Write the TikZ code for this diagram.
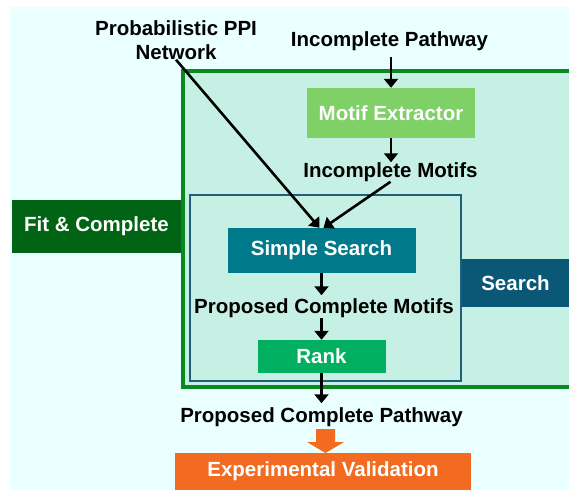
\documentclass[tikz,border=0pt]{standalone}
\usepackage{fontspec}
\setmainfont{Liberation Sans}
\usetikzlibrary{arrows.meta}
\definecolor{bgc}{HTML}{EAFFFF}
\definecolor{boxfill}{HTML}{C6F0E4}
\definecolor{gborder}{HTML}{0A8A1E}
\definecolor{mefill}{HTML}{80D068}
\definecolor{fitfill}{HTML}{006414}
\definecolor{bborder}{HTML}{1F5F7C}
\definecolor{searchfill}{HTML}{0B5876}
\definecolor{ssfill}{HTML}{007A8A}
\definecolor{rankfill}{HTML}{00B060}
\definecolor{orangefill}{HTML}{F26B21}
\tikzset{
  lbl/.style={inner sep=0pt, font=\fontsize{20.5}{24}\selectfont\bfseries, text=black, align=center},
  filledbox/.style={inner sep=0pt, font=\fontsize{20.5}{24}\selectfont\bfseries, text=white, align=center},
  arr/.style={line width=2.6pt, -{Triangle[width=14pt,length=9pt]}},
}
\begin{document}
\begin{tikzpicture}[x=1pt,y=-1pt]
\clip (0,0) rectangle (569,493);
\fill[white] (0,0) rectangle (569,493);
\fill[bgc] (10,7) rectangle (569,490);
% outer green frame
\draw[gborder, fill=boxfill, line width=3.5pt] (183,71) rectangle (590,387);
% inner search frame
\draw[bborder, line width=2.8pt] (190,195) rectangle (461,381);
% side labels
\node[filledbox, fill=fitfill, minimum width=169pt, minimum height=53pt] (fit) at (96.5,226.5) {Fit \& Complete};
\node[filledbox, fill=searchfill, minimum width=107pt, minimum height=48pt] (search) at (515.5,283) {Search};
% boxes
\node[filledbox, fill=mefill, minimum width=168pt, minimum height=50pt] (me) at (391,113) {Motif Extractor};
\node[filledbox, fill=ssfill, minimum width=188pt, minimum height=45pt] (ss) at (321.5,250.5) {Simple Search};
\node[filledbox, fill=rankfill, minimum width=128pt, minimum height=33pt] (rank) at (321.5,356.5) {Rank};
\node[filledbox, fill=orangefill, minimum width=296pt, minimum height=37pt] (ev) at (323,471.5) {Experimental Validation};
% labels
\node[lbl] (ppi) at (176,40) {Probabilistic PPI\\Network};
\node[lbl] (ip) at (389.5,41) {Incomplete Pathway};
\node[lbl] (im) at (390.5,172) {Incomplete Motifs};
\node[lbl] (pcm) at (324,308) {Proposed Complete Motifs};
\node[lbl] (pcp) at (321.5,417) {Proposed Complete Pathway};
% connectors
\draw[arr, shorten <=6pt] (ip.south -| me.north) -- (me.north);
\draw[arr] (me.south) -- (me.south |- im.north);
\draw[arr] (ppi.south) -- ([xshift=-2pt]ss.north);
\draw[arr] (im.south) -- ([xshift=2pt]ss.north);
\draw[arr, shorten >=3pt] (ss.south) -- (ss.south |- pcm.north);
\draw[arr] (ss.south |- pcm.south) -- (rank.north);
\draw[arr, shorten >=4pt] (rank.south) -- (rank.south |- pcp.north);
% fat orange arrow
\fill[orangefill] (316,429) -- (335,429) -- (335,442) -- (344,442) -- (325.5,453) -- (307,442) -- (316,442) -- cycle;
\end{tikzpicture}
\end{document}
